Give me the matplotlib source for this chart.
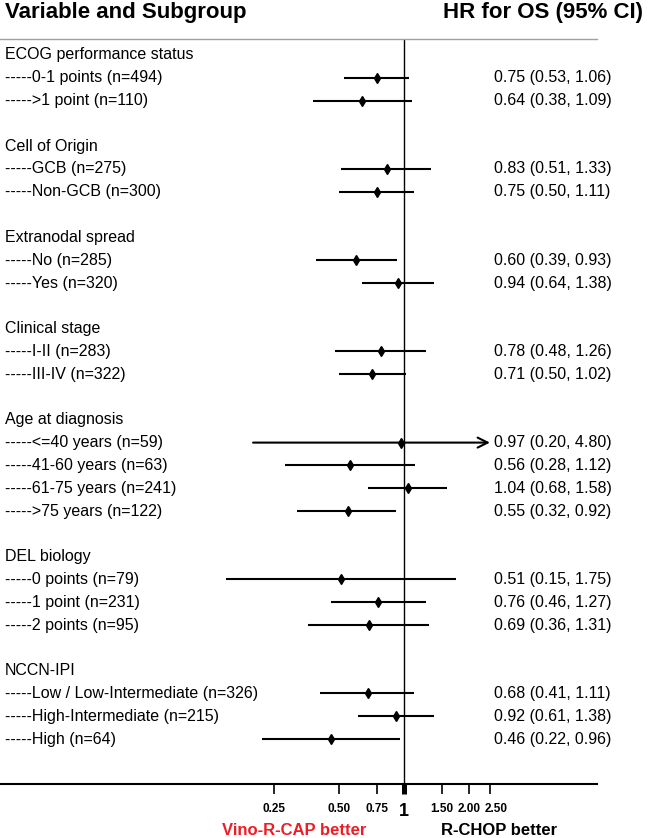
import numpy as np
import matplotlib
matplotlib.use('Agg')
import matplotlib.pyplot as plt
from matplotlib.ticker import NullLocator
from matplotlib.transforms import offset_copy

plt.rcParams['font.family'] = ['Liberation Sans', 'DejaVu Sans']

# group headers and subgroup rows (label, HR, lower, upper)
groups = ["ECOG performance status", "Cell of Origin", "Extranodal spread",
          "Clinical stage", "Age at diagnosis", "DEL biology", "NCCN-IPI"]

labels = [
    ["-----0-1 points (n=494)", "----->1 point (n=110)"],
    ["-----GCB (n=275)", "-----Non-GCB (n=300)"],
    ["-----No (n=285)", "-----Yes (n=320)"],
    ["-----I-II (n=283)", "-----III-IV (n=322)"],
    ["-----<=40 years (n=59)", "-----41-60 years (n=63)",
     "-----61-75 years (n=241)", "----->75 years (n=122)"],
    ["-----0 points (n=79)", "-----1 point (n=231)", "-----2 points (n=95)"],
    ["-----Low / Low-Intermediate (n=326)", "-----High-Intermediate (n=215)",
     "-----High (n=64)"],
]
hr = [[0.75, 0.64], [0.83, 0.75], [0.60, 0.94], [0.78, 0.71],
      [0.97, 0.56, 1.04, 0.55], [0.51, 0.76, 0.69], [0.68, 0.92, 0.46]]
lo = [[0.53, 0.38], [0.51, 0.50], [0.39, 0.64], [0.48, 0.50],
      [0.20, 0.28, 0.68, 0.32], [0.15, 0.46, 0.36], [0.41, 0.61, 0.22]]
hi = [[1.06, 1.09], [1.33, 1.11], [0.93, 1.38], [1.26, 1.02],
      [4.80, 1.12, 1.58, 0.92], [1.75, 1.27, 1.31], [1.11, 1.38, 0.96]]

tick_vals = [0.25, 0.50, 0.75, 1, 1.50, 2.00, 2.50]
tick_labels = ['0.25', '0.50', '0.75', '1', '1.50', '2.00', '2.50']
x_cap = 2.5

W, H = 649, 838
fig = plt.figure(figsize=(W / 100, H / 100), dpi=100)
# axes from pixel x 0..597, y 39..784
ax = fig.add_axes([0, (H - 784) / H, 597 / W, (784 - 39) / H])
ax.set_xscale('log')
ax.set_xlim(2 ** (-404 / 65), 2 ** (193 / 65))
ax.set_ylim((784 - 55) / 22.8, (39 - 55) / 22.8)

tr = ax.get_yaxis_transform()
row = 0
for g, labs, h, l, u in zip(groups, labels, hr, lo, hi):
    ax.text(5 / 597, row, g, transform=tr, fontsize=11.5, va='center', ha='left')
    row += 1
    for lab, hv, lv, uv in zip(labs, h, l, u):
        ax.text(5 / 597, row, lab, transform=tr, fontsize=11.5, va='center', ha='left')
        ax.text(494 / 597, row, "%.2f (%.2f, %.2f)" % (hv, lv, uv), transform=tr,
                fontsize=11.5, va='center', ha='left')
        if uv > x_cap:
            ax.annotate('', xy=(x_cap, row), xytext=(lv, row),
                        arrowprops=dict(arrowstyle='->', lw=1.5, color='black',
                                        mutation_scale=18, shrinkA=0, shrinkB=0))
        else:
            ax.plot([lv, uv], [row, row], color='black', lw=1.5, solid_capstyle='butt')
        ax.plot(hv, row, marker='d', color='black', markersize=5, zorder=5)
        row += 1
    row += 1

ax.axvline(1, color='black', lw=1)

for s in ['left', 'right']:
    ax.spines[s].set_visible(False)
ax.spines['top'].set_color('#a0a0a0')
ax.spines['top'].set_linewidth(1)
ax.spines['bottom'].set_linewidth(1.5)

ax.set_yticks([])
ax.set_xticks(tick_vals)
ax.set_xticklabels(tick_labels)
ax.xaxis.set_minor_locator(NullLocator())
ax.tick_params(axis='x', direction='out', length=7.5, width=1.2, pad=6)
for t in ax.get_xticklabels():
    t.set_fontweight('bold')
    t.set_fontsize(8.5)
one = tick_labels.index('1')
ax.get_xticklabels()[one].set_fontsize(13)
ax.xaxis.get_major_ticks()[one].tick1line.set_markeredgewidth(3.6)
# last label sits a little to the right of its tick
last = ax.get_xticklabels()[-1]
last.set_transform(offset_copy(last.get_transform(), fig=fig, x=6, y=0, units='dots'))

fig.text(5 / W, 1 - 18 / H, "Variable and Subgroup", fontsize=16, fontweight='bold',
         ha='left', va='baseline')
fig.text(643 / W, 1 - 18 / H, "HR for OS (95% CI)", fontsize=16, fontweight='bold',
         ha='right', va='baseline')
fig.text(294 / W, 1 - 830 / H, "Vino-R-CAP better", fontsize=12, fontweight='bold',
         color='#ee1c25', ha='center', va='center')
fig.text(499 / W, 1 - 830 / H, "R-CHOP better", fontsize=12, fontweight='bold',
         color='black', ha='center', va='center')

fig.savefig('out.png', dpi=100)
